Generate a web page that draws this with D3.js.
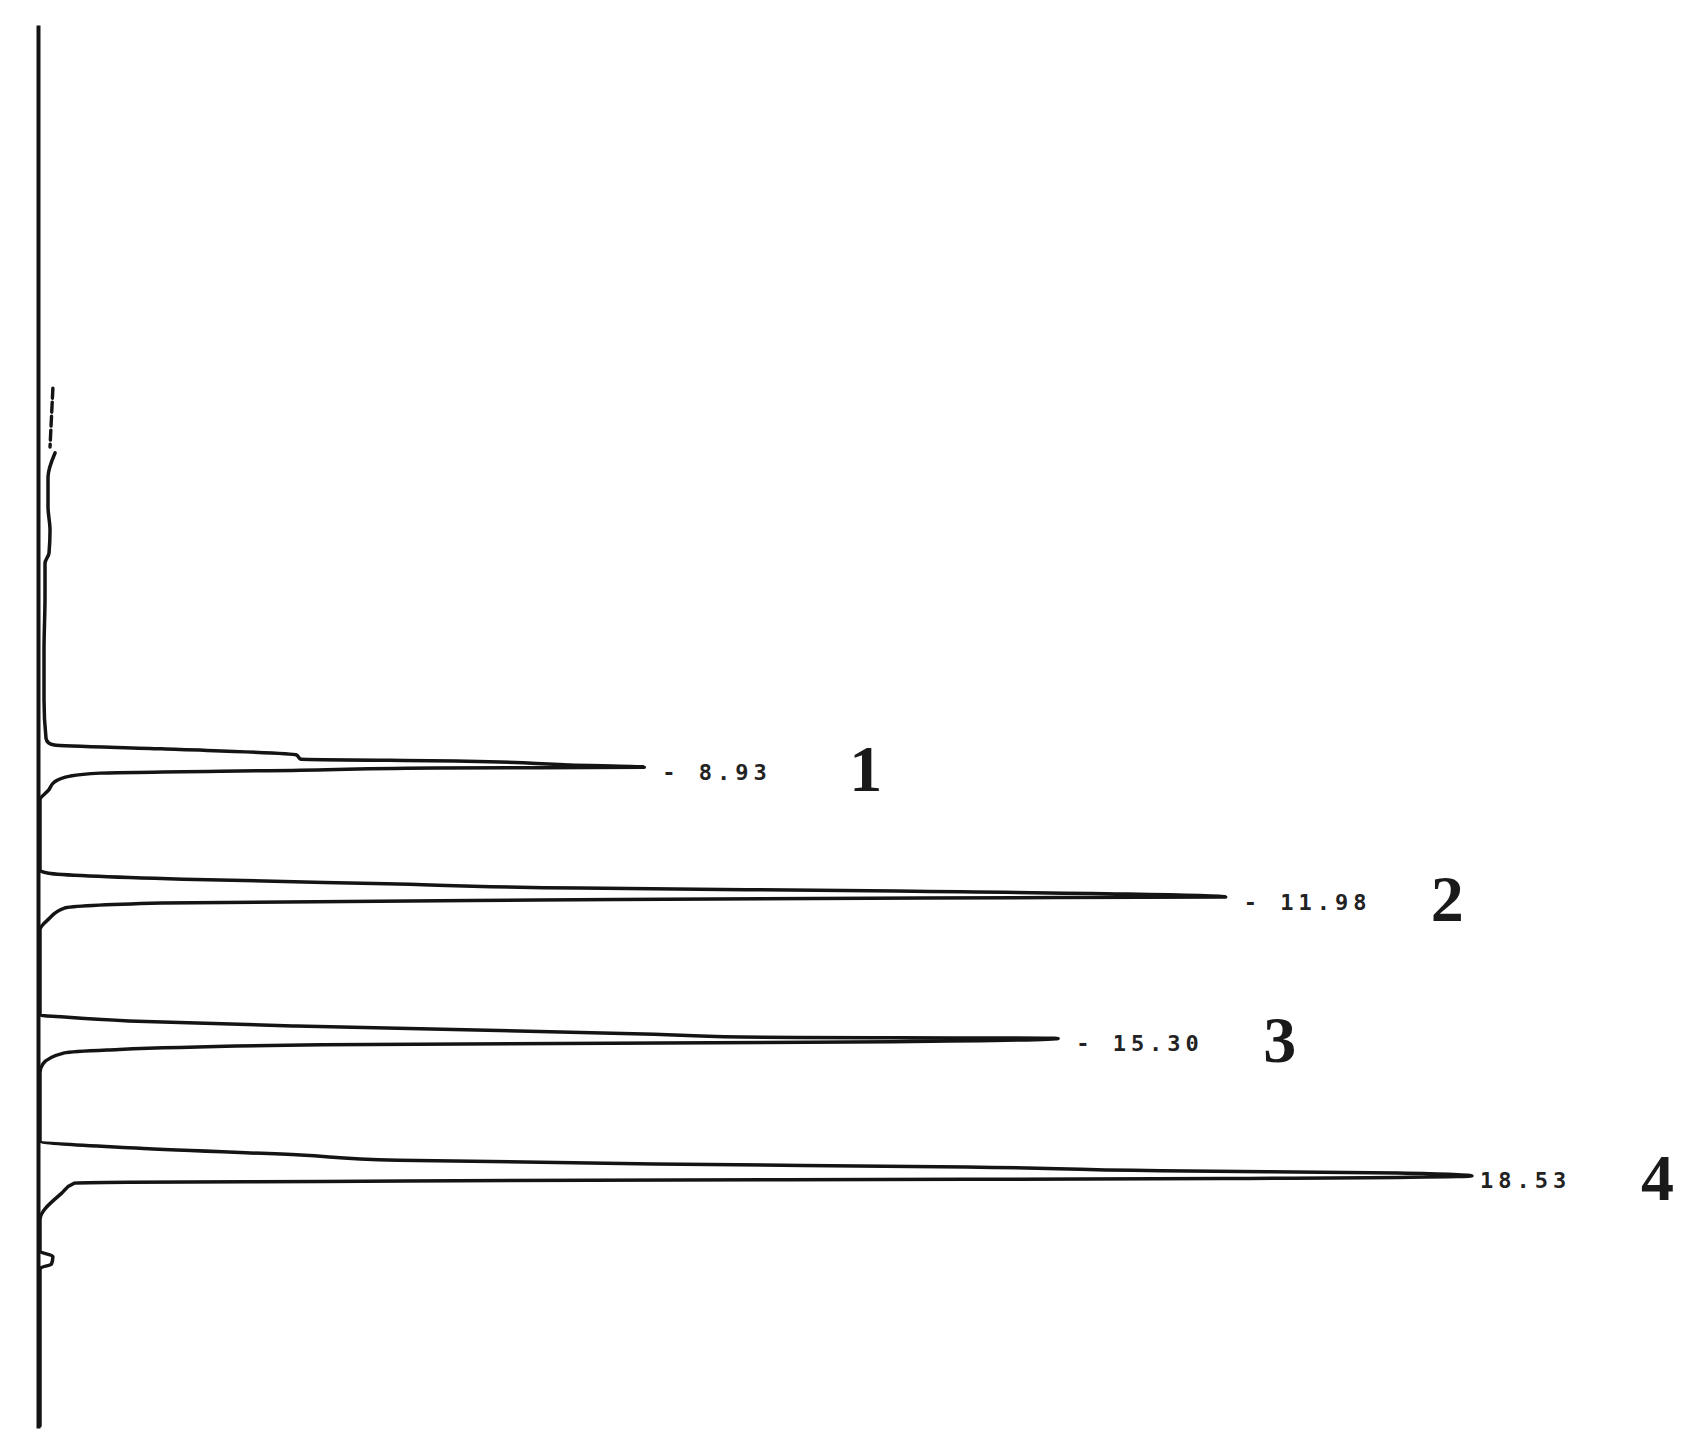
<!DOCTYPE html>
<html>
<head>
<meta charset="utf-8">
<script src="https://cdn.jsdelivr.net/npm/d3@7"></script>
<style>
  html, body { margin: 0; padding: 0; background: #ffffff; }
  svg { display: block; }
</style>
</head>
<body>
<svg id="chart" width="1685" height="1453"></svg>
<script>
// ---- data (time in min runs downward, detector signal runs to the right) ----
const timeDomain = [-8.5, 24.45];          // extent of the recorder's time line
const signalDomain = [0, 100];

const retentionTimes = [8.93, 11.98, 15.30, 18.53];
const peakHeights    = [42.2, 82.8, 71.1, 100];
const timeLabels     = ["- 8.93", "- 11.98", "- 15.30", "18.53"];
const peakNumbers    = ["1", "2", "3", "4"];

// dotted start of the trace (injection)
const startTimes   = [0.03, 1.41];
const startSignals = [0.9, 0.7];

// trace
const traceTimes = [
  1.55, 2.12, 2.82, 3.36, 3.90, 4.14, 4.93, 6.18, 7.35, 8.25,
  8.36, 8.41, 8.50, 8.64, 8.74, 8.79, 8.88, 8.93, 8.95, 9.00, 9.07, 9.14, 9.28, 9.47, 9.70,
  11.35, 11.42, 11.56, 11.67, 11.77, 11.84, 11.98, 12.00, 12.05, 12.12, 12.24, 12.50, 12.75,
  14.75, 14.80, 14.89, 15.01, 15.20, 15.27, 15.30, 15.38, 15.45, 15.57, 15.64, 15.90, 16.10,
  17.71, 17.87, 18.04, 18.16, 18.25, 18.32, 18.41, 18.46, 18.53, 18.59, 18.61, 18.63, 18.66, 18.68, 18.70, 18.94, 19.56,
  20.30, 20.42, 20.60, 20.70, 24.40
];
const traceSignals = [
  1.05, 0.56, 0.56, 0.70, 0.63, 0.35, 0.35, 0.28, 0.28, 0.42,
  0.6, 1.0, 8.5, 17.9, 18.2, 29.8, 37.0, 42.2, 27.6, 18.2, 4.2, 2.1, 1.0, 0.6, 0,
  0, 0.6, 10.0, 24.2, 37.7, 59.8, 82.8, 61.7, 34.7, 8.5, 1.7, 0.6, 0,
  0, 1.7, 6.2, 17.9, 42.9, 49.0, 71.1, 59.5, 19.7, 4.7, 1.7, 0.2, 0,
  0, 6.2, 18.2, 25.0, 42.9, 64.7, 78.3, 94.8, 100, 82.75, 64.7, 38.5, 19.7, 6.2, 2.4, 1.5, 0,
  0, 0.9, 0.8, 0, 0
];

// ---- drawing ----
const svg = d3.select("#chart");

const y = d3.scaleLinear().domain(timeDomain).range([25, 1428]);
const x = d3.scaleLinear().domain(signalDomain).range([40, 1472]);

const ink = "#141414";

// recorder time line
const axisG = svg.append("g")
  .attr("transform", "translate(38,0)")
  .call(d3.axisRight(y).ticks(0).tickSizeOuter(0));
axisG.select(".domain").attr("stroke", ink).attr("stroke-width", 4);

const line = d3.line()
  .x(d => x(d[1]))
  .y(d => y(d[0]))
  .curve(d3.curveMonotoneY);

const startPts = startTimes.map((t, i) => [t, startSignals[i]]);
svg.append("path")
  .attr("d", d3.line().x(d => x(d[1])).y(d => y(d[0]))(startPts))
  .attr("fill", "none")
  .attr("stroke", ink)
  .attr("stroke-width", 3.4)
  .attr("stroke-dasharray", "10 4")
  .attr("stroke-linecap", "round");

const tracePts = traceTimes.map((t, i) => [t, traceSignals[i]]);
svg.append("path")
  .attr("d", line(tracePts))
  .attr("fill", "none")
  .attr("stroke", ink)
  .attr("stroke-width", 3.5)
  .attr("stroke-linejoin", "round")
  .attr("stroke-linecap", "round");

// retention time labels
svg.append("g").selectAll("text")
  .data(retentionTimes)
  .join("text")
  .attr("x", (d, i) => x(peakHeights[i]) + (i === 3 ? 8 : 18))
  .attr("y", d => y(d) + 5)
  .attr("dominant-baseline", "central")
  .attr("font-family", "'DejaVu Sans Mono', monospace")
  .attr("font-weight", "bold")
  .attr("font-size", 22)
  .attr("letter-spacing", 5)
  .attr("fill", "#222")
  .text((d, i) => timeLabels[i]);

// peak numbers
svg.append("g").selectAll("text")
  .data(retentionTimes)
  .join("text")
  .attr("x", (d, i) => Math.min(x(peakHeights[i]) + 205, 1641))
  .attr("y", d => y(d) + 24)
  .attr("font-family", "'Liberation Serif', 'Times New Roman', serif")
  .attr("font-weight", "bold")
  .attr("font-size", 66)
  .attr("fill", "#1a1a1a")
  .text((d, i) => peakNumbers[i]);
</script>
</body>
</html>
